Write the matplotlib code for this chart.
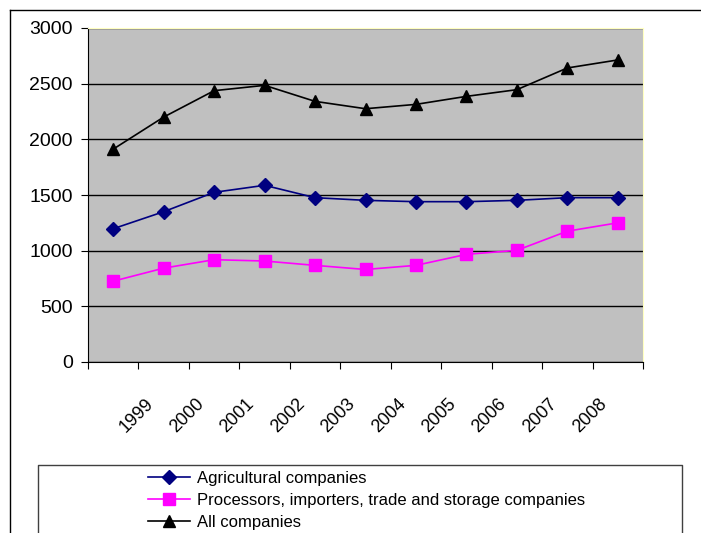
import matplotlib
matplotlib.use('Agg')
import matplotlib.pyplot as plt
import matplotlib.transforms as mtransforms
from matplotlib.lines import Line2D

plt.rcParams['font.family'] = ['Liberation Sans', 'DejaVu Sans']

# category labels (first category has no label in the source)
years = ['', '1999', '2000', '2001', '2002', '2003', '2004', '2005', '2006', '2007', '2008']
agricultural = [1197, 1350, 1524, 1587, 1476, 1452, 1440, 1440, 1452, 1476, 1476]
processors = [726, 843, 919, 907, 868, 831, 868, 967, 1003, 1175, 1250]
all_companies = [1912, 2200, 2437, 2485, 2341, 2275, 2314, 2386, 2446, 2641, 2713]

fig = plt.figure(figsize=(7.01, 5.33), dpi=100)
ax = fig.add_axes([88 / 701, 1 - 362 / 533, (643 - 88) / 701, (362 - 28) / 533])
ax.set_facecolor('#C0C0C0')

x = list(range(len(years)))
ax.plot(x, agricultural, color='#000080', marker='D', markersize=7, lw=1.2,
        label='Agricultural companies')
ax.plot(x, processors, color='#FF00FF', marker='s', markersize=8, lw=1.2,
        label='Processors, importers, trade and storage companies')
ax.plot(x, all_companies, color='black', marker='^', markersize=9, lw=1.2,
        label='All companies')

ax.set_xlim(-0.5, len(years) - 0.5)
ax.set_ylim(0, 3000)
ax.set_yticks(range(0, 3001, 500))
ax.tick_params(axis='y', labelsize=14, length=5, direction='out', pad=6)
ax.yaxis.grid(True, color='black', lw=1)
ax.set_axisbelow(True)

# category boundaries as ticks, labels at centres
ax.set_xticks([i - 0.5 for i in range(len(years) + 1)])
ax.set_xticklabels([])
ax.set_xticks(x, minor=True)
ax.set_xticklabels(years, minor=True, rotation=45, ha='right', va='top', fontsize=13)
ax.tick_params(axis='x', which='major', length=5, direction='out')
ax.tick_params(axis='x', which='minor', length=0, pad=24)
shift = mtransforms.ScaledTranslation(-7 / 100, 0, fig.dpi_scale_trans)
for lbl in ax.get_xticklabels(minor=True):
    lbl.set_transform(lbl.get_transform() + shift)

ax.spines['top'].set_color('#FFFFC0')
ax.spines['right'].set_color('#FFFFC0')
ax.spines['left'].set_color('black')
ax.spines['bottom'].set_color('black')

# outer chart frame
fig.add_artist(Line2D([10 / 701, 1], [1 - 10 / 533] * 2, color='black', lw=1))
fig.add_artist(Line2D([10 / 701] * 2, [0, 1 - 10 / 533], color='black', lw=1))

# legend box (cut off at the bottom)
lx0, lx1, ly = 38 / 701, 682 / 701, 1 - 465 / 533
fig.add_artist(Line2D([lx0, lx0, lx1, lx1], [0, ly, ly, 0], color='#404040', lw=1))
fig.legend(loc='upper left', bbox_to_anchor=(148 / 701, 1 - 471 / 533), frameon=False,
           fontsize=12, handlelength=2.5, handletextpad=0.45, labelspacing=0.42,
           borderpad=0, borderaxespad=0)

fig.savefig('out.png', dpi=100)
